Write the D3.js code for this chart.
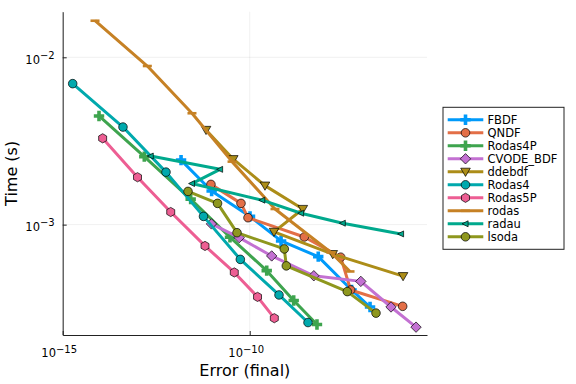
<!DOCTYPE html>
<html>
<head>
<meta charset="utf-8">
<script src="https://cdn.jsdelivr.net/npm/d3@7"></script>
<style>
  body { margin: 0; background: #fff; }
  text { font-family: "DejaVu Sans", sans-serif; }
</style>
</head>
<body>
<div id="chart"></div>
<script>
// work-precision data
var names = ["FBDF", "QNDF", "Rodas4P", "CVODE_BDF", "ddebdf", "Rodas4", "Rodas5P", "rodas", "radau", "lsoda"];

var fbdfErr = [1.46e-12, 9.6e-12, 1.02e-10, 6.9e-10, 6.8e-9, 5.3e-8, 1.65e-7];
var fbdfTime = [2.43e-3, 1.59e-3, 1.12e-3, 7.99e-4, 6.44e-4, 4.07e-4, 3.22e-4];

var qndfErr = [9.2e-12, 5.85e-11, 9.0e-11, 2.88e-9, 2.71e-8, 5.0e-8, 1.23e-6];
var qndfTime = [1.74e-3, 1.34e-3, 1.10e-3, 8.44e-4, 6.39e-4, 4.07e-4, 3.25e-4];

var rodas4pErr = [9.35e-15, 1.52e-13, 2.64e-12, 2.97e-11, 2.85e-10, 1.50e-9, 6.29e-9];
var rodas4pTime = [4.46e-3, 2.55e-3, 1.42e-3, 8.41e-4, 5.31e-4, 3.52e-4, 2.53e-4];

var cvodeErr = [9.5e-12, 5.24e-11, 3.87e-10, 5.18e-9, 9.35e-8, 6.0e-7, 2.80e-6];
var cvodeTime = [1.01e-3, 8.36e-4, 6.50e-4, 4.95e-4, 4.58e-4, 3.22e-4, 2.44e-4];

var ddebdfErr = [6.8e-12, 3.64e-11, 2.56e-10, 2.63e-9, 4.47e-10, 1.66e-8, 1.26e-6];
var ddebdfTime = [3.68e-3, 2.46e-3, 1.71e-3, 1.24e-3, 9.05e-4, 6.66e-4, 4.92e-4];

var rodas4Err = [1.85e-15, 4.09e-14, 5.78e-13, 5.82e-12, 5.61e-11, 6.07e-10, 3.62e-9];
var rodas4Time = [6.96e-3, 3.83e-3, 2.06e-3, 1.12e-3, 6.20e-4, 3.80e-4, 2.60e-4];

var rodas5pErr = [1.17e-14, 1.0e-13, 7.73e-13, 6.38e-12, 3.87e-11, 1.62e-10, 4.55e-10];
var rodas5pTime = [3.28e-3, 1.92e-3, 1.19e-3, 7.46e-4, 5.18e-4, 3.70e-4, 2.76e-4];

var rodasErr = [7.31e-15, 1.83e-13, 2.86e-12, 3.37e-11, 4.74e-10, 1.49e-8, 4.81e-8];
var rodasTime = [1.654e-2, 8.87e-3, 4.63e-3, 2.38e-3, 1.24e-3, 6.82e-4, 5.25e-4];

var radauErr = [2.25e-13, 1.61e-11, 2.86e-12, 2.16e-10, 2.36e-9, 3.07e-8, 1.11e-6];
var radauTime = [2.57e-3, 2.14e-3, 1.76e-3, 1.40e-3, 1.17e-3, 1.02e-3, 8.80e-4];

var lsodaErr = [2.24e-12, 1.38e-11, 4.57e-11, 8.41e-10, 9.53e-10, 4.07e-8, 2.38e-7];
var lsodaTime = [1.58e-3, 1.34e-3, 8.95e-4, 7.16e-4, 5.67e-4, 3.98e-4, 2.96e-4];

var xTicks = [1e-15, 1e-10];
var yTicks = [1e-3, 1e-2];
var xTickExp = ["\u221215", "\u221210"];
var yTickExp = ["\u22123", "\u22122"];

var allErr = [fbdfErr, qndfErr, rodas4pErr, cvodeErr, ddebdfErr, rodas4Err, rodas5pErr, rodasErr, radauErr, lsodaErr];
var allTime = [fbdfTime, qndfTime, rodas4pTime, cvodeTime, ddebdfTime, rodas4Time, rodas5pTime, rodasTime, radauTime, lsodaTime];

var colors = ["#009AFA", "#E36F47", "#3EA44E", "#C371D2", "#AC8D18", "#00A9AD", "#ED5E93", "#C68125", "#00A98D", "#8E971E"];
var shapes = ["cross", "circle", "cross", "diamond", "dtriangle", "circle", "hexagon", "hline", "ltriangle", "circle"];

var W = 576, H = 384;
var plotL = 62.7, plotR = 427, plotT = 11.7, plotB = 335;

var svg = d3.select("#chart").append("svg")
    .attr("width", W)
    .attr("height", H);

svg.append("rect").attr("width", W).attr("height", H).attr("fill", "#fff");

var x = d3.scaleLog().domain([1e-15, 5.5e-6]).range([plotL, plotR]);
var y = d3.scaleLog().domain([2.19e-4, 1.873e-2]).range([plotB, plotT]);

// grid
svg.append("g").selectAll("line").data(xTicks).join("line")
    .attr("x1", d => x(d)).attr("x2", d => x(d))
    .attr("y1", plotT).attr("y2", plotB)
    .attr("stroke", "#000").attr("stroke-opacity", 0.1).attr("stroke-width", 0.6);
svg.append("g").selectAll("line").data(yTicks).join("line")
    .attr("x1", plotL).attr("x2", plotR)
    .attr("y1", d => y(d)).attr("y2", d => y(d))
    .attr("stroke", "#000").attr("stroke-opacity", 0.1).attr("stroke-width", 0.6);

// axes
var xAxis = svg.append("g")
    .attr("transform", "translate(0," + plotB + ")")
    .call(d3.axisBottom(x).tickValues(xTicks).tickSizeInner(-4).tickSizeOuter(0).tickPadding(14).tickFormat(""));
var yAxis = svg.append("g")
    .attr("transform", "translate(" + plotL + ",0)")
    .call(d3.axisLeft(y).tickValues(yTicks).tickSizeInner(-4).tickSizeOuter(0).tickPadding(8).tickFormat(""));

[xAxis, yAxis].forEach(function (a) {
    a.select(".domain").attr("stroke", "#222").attr("stroke-width", 1);
    a.selectAll(".tick line").attr("stroke", "#222").attr("stroke-width", 1);
});

xAxis.selectAll(".tick text").each(function (d, i) {
    var t = d3.select(this).attr("font-size", 11.5).attr("fill", "#000").attr("dx", "-0.35em");
    t.append("tspan").text("10");
    t.append("tspan").attr("dy", "-0.45em").attr("font-size", 10).text(xTickExp[i]);
});
yAxis.selectAll(".tick text").each(function (d, i) {
    var t = d3.select(this).attr("font-size", 11.5).attr("fill", "#000").attr("dy", "0.5em");
    t.append("tspan").text("10");
    t.append("tspan").attr("dy", "-0.45em").attr("font-size", 10).text(yTickExp[i]);
});

svg.append("text")
    .attr("x", (plotL + plotR) / 2)
    .attr("y", 376)
    .attr("text-anchor", "middle")
    .attr("font-size", 16)
    .text("Error (final)");

svg.append("text")
    .attr("transform", "translate(17," + ((plotT + plotB) / 2) + ") rotate(-90)")
    .attr("text-anchor", "middle")
    .attr("font-size", 16)
    .text("Time (s)");

function drawMarker(g, shape, cx, cy, color) {
    var s;
    if (shape == "circle") {
        g.append("circle").attr("cx", cx).attr("cy", cy).attr("r", 4.3)
            .attr("fill", color).attr("stroke", "#000").attr("stroke-width", 0.7);
        return;
    }
    if (shape == "hline") {
        g.append("rect").attr("x", cx - 4.5).attr("y", cy - 1.3).attr("width", 9).attr("height", 2.6)
            .attr("fill", color);
        return;
    }
    if (shape == "cross") {
        var a = 5.2, w = 1.8;
        s = [[-w, -a], [w, -a], [w, -w], [a, -w], [a, w], [w, w], [w, a], [-w, a], [-w, w], [-a, w], [-a, -w], [-w, -w]];
        g.append("polygon").attr("points", s.map(p => (cx + p[0]) + "," + (cy + p[1])).join(" "))
            .attr("fill", color);
        return;
    }
    if (shape == "diamond") s = [[0, -5.2], [5.2, 0], [0, 5.2], [-5.2, 0]];
    if (shape == "dtriangle") s = [[-4.8, -3.6], [4.8, -3.6], [0, 4.6]];
    if (shape == "ltriangle") s = [[-3.4, 0], [2.6, -3], [2.6, 3]];
    if (shape == "hexagon") s = d3.range(6).map(k => [4.6 * Math.cos(Math.PI / 6 + k * Math.PI / 3), 4.6 * Math.sin(Math.PI / 6 + k * Math.PI / 3)]);
    g.append("polygon").attr("points", s.map(p => (cx + p[0]) + "," + (cy + p[1])).join(" "))
        .attr("fill", color).attr("stroke", "#000").attr("stroke-width", 0.7);
}

var line = d3.line().x(d => x(d[0])).y(d => y(d[1]));

names.forEach(function (name, i) {
    var pts = allErr[i].map((e, j) => [e, allTime[i][j]]);
    var g = svg.append("g");
    g.append("path").datum(pts).attr("d", line)
        .attr("fill", "none").attr("stroke", colors[i]).attr("stroke-width", 3)
        .attr("stroke-linejoin", "round");
    pts.forEach(p => drawMarker(g, shapes[i], x(p[0]), y(p[1]), colors[i]));
});

// legend
var lg = svg.append("g");
lg.append("rect").attr("x", 443).attr("y", 107.3).attr("width", 121).attr("height", 142)
    .attr("fill", "#fff").attr("stroke", "#222").attr("stroke-width", 1);
names.forEach(function (name, i) {
    var ly = 119.8 + i * 13.0;
    lg.append("line").attr("x1", 447.7).attr("x2", 483.3).attr("y1", ly).attr("y2", ly)
        .attr("stroke", colors[i]).attr("stroke-width", 3);
    drawMarker(lg, shapes[i], 465.5, ly, colors[i]);
    lg.append("text").attr("x", 487.5).attr("y", ly).attr("dy", "0.36em")
        .attr("font-size", 11.5).text(name);
});
</script>
</body>
</html>
